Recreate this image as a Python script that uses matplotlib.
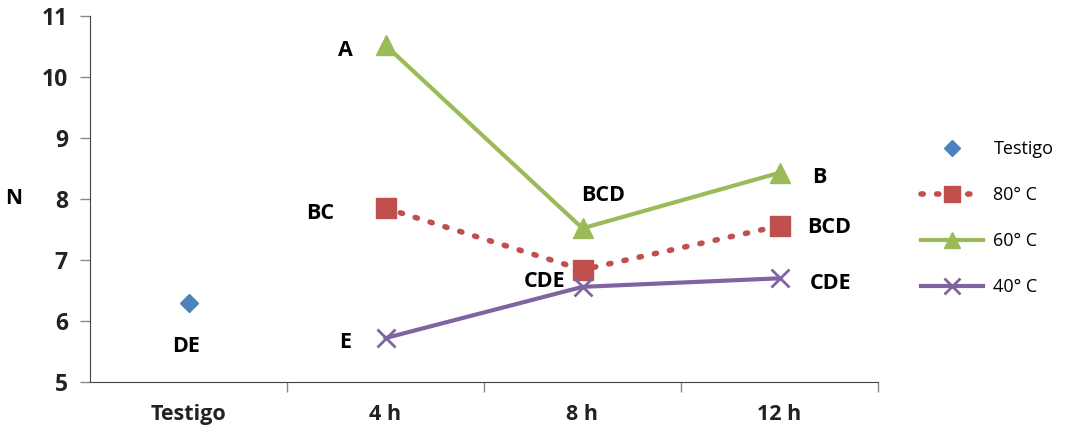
import matplotlib
matplotlib.use("Agg")
import matplotlib.pyplot as plt

categories = ["Testigo", "4 h", "8 h", "12 h"]
testigo_val = [6.3]
s80 = [7.85, 6.84, 7.56]
s60 = [10.52, 7.52, 8.43]
s40 = [5.72, 6.56, 6.70]
yticks = [5, 6, 7, 8, 9, 10, 11]

# (x index, y value, text, dx px, dy px)
labels = [
    (0, testigo_val[0], "DE", -2, -44),
    (1, s60[0], "A", -40, -5),
    (1, s80[0], "BC", -65, -5),
    (1, s40[0], "E", -40, -4),
    (2, s60[1], "BCD", 21, 33),
    (2, s80[1], "CDE", -38, -12),
    (3, s60[2], "B", 40, -5),
    (3, s80[2], "BCD", 50, -2),
    (3, s40[2], "CDE", 51, -5),
]

plt.rcParams['font.family'] = ['Open Sans', 'DejaVu Sans']

blue = "#4F81BD"
red = "#C0504D"
green = "#9BBB59"
purple = "#8064A2"

fig = plt.figure(figsize=(10.74, 4.34), dpi=100)
ax = fig.add_axes([90/1074, 52/434, (878-90)/1074, (382-16)/434])

ax.plot([0], testigo_val, linestyle='none', marker='D', color=blue, markersize=9, label="Testigo")
x = [1, 2, 3]
ax.plot(x, s80, linestyle=(0, (0.4, 2.4)), dash_capstyle='round', linewidth=4, color=red,
        marker='s', markersize=14, label="80° C")
ax.plot(x, s60, linestyle='-', linewidth=3, color=green, marker='^', markersize=14, label="60° C")
ax.plot(x, s40, linestyle='-', linewidth=3, color=purple, marker='x', markersize=13,
        markeredgewidth=2, label="40° C")

for xi, yv, t, dx, dy in labels:
    ax.annotate(t, xy=(xi, yv), xytext=(dx, dy), textcoords='offset pixels',
                ha='center', va='center', fontsize=15.5, fontweight='bold', color='black')

ax.set_xlim(-0.5, 3.5)
ax.set_ylim(5, 11)
ax.set_yticks(yticks)
ax.set_yticklabels([str(v) for v in yticks], fontsize=16.5, fontweight='bold', color='#222222')
ax.set_xticks(range(len(categories)))
ax.set_xticklabels(categories, fontsize=15.5, fontweight='bold', color='#222222')
ax.tick_params(axis='x', length=0, pad=16)
ax.set_xticks([0.5, 1.5, 2.5, 3.5], minor=True)
ax.tick_params(axis='x', which='minor', length=7, color='#888888', width=1)
ax.tick_params(axis='y', length=7, color='#888888', width=1, pad=9)
for s in ['top', 'right']:
    ax.spines[s].set_visible(False)
ax.spines['left'].set_color('#444444')
ax.spines['bottom'].set_color('#444444')
ax.set_ylabel("N", fontsize=15, fontweight='bold', rotation=0, labelpad=20, va='center')

leg = fig.legend(loc='center left', bbox_to_anchor=(905/1074, 0.497), frameon=False,
                 fontsize=13, handlelength=3.4, labelspacing=1.55, numpoints=1,
                 handletextpad=0.6, markerscale=0.85)
fig.savefig("out.png", dpi=100)
